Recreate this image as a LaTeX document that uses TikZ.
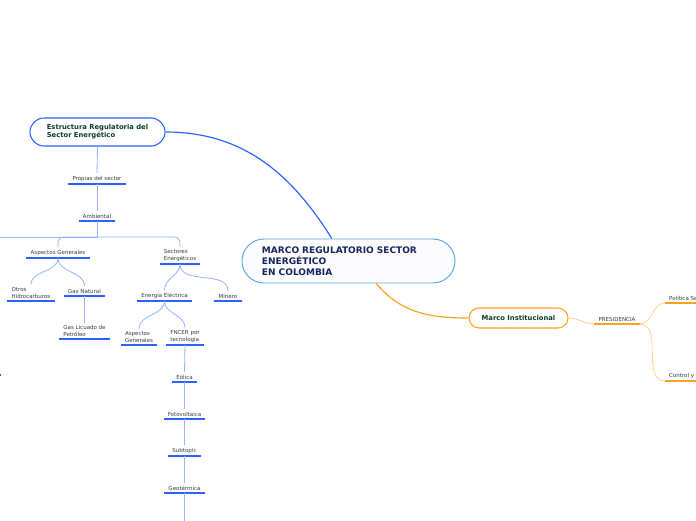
\documentclass[tikz,border=0pt]{standalone}
\usepackage{fontspec}
\setmainfont{DejaVu Sans}
\usetikzlibrary{positioning, calc}

\definecolor{azul}{RGB}{41,98,255}
\definecolor{azulclaro}{RGB}{150,180,255}
\definecolor{azulborde}{RGB}{90,165,225}
\definecolor{naranja}{RGB}{255,160,30}
\definecolor{naranjaclaro}{RGB}{255,212,150}
\definecolor{marino}{RGB}{22,38,92}
\definecolor{verdeosc}{RGB}{12,62,42}
\definecolor{texto}{RGB}{60,60,60}

\begin{document}
\begin{tikzpicture}[x=0.03cm, y=-0.03cm,
  raiz/.style={rectangle,rounded corners=0.66cm,draw=azulborde,line width=0.8pt,fill=blue!1,
               text=marino,font=\fontsize{7.7}{9.4}\selectfont\bfseries,align=left,
               text width=5.19cm,inner xsep=0.6cm,minimum height=1.32cm},
  rama/.style={rectangle,draw=#1,line width=0.9pt,fill=white,text=verdeosc,
               font=\fontsize{5.8}{6.9}\selectfont\bfseries,align=left},
  tema/.style={font=\fontsize{4.7}{5.6}\selectfont,text=texto,align=left,
               inner xsep=3.4pt,inner ysep=2.2pt,anchor=south,
               append after command={(\tikzlastnode.south west) edge[draw=#1,line width=1.4pt] (\tikzlastnode.south east)}},
  tema/.default=azul,
  conector/.style={draw=azulclaro,line width=0.7pt},
  conectorn/.style={draw=naranjaclaro,line width=0.7pt}]

  \useasboundingbox (0,0) rectangle (696,520);
  \fill[white] (0,0) rectangle (696,520);
  \clip (0,0) rectangle (696,520);

  % --- centro ---
  \node[raiz] (marco) at (348.5,261) {MARCO REGULATORIO SECTOR\\ ENERGÉTICO\\ EN COLOMBIA};

  % --- ramas principales ---
  \node[rama=azul,rounded corners=0.42cm,minimum width=4.05cm,minimum height=0.84cm] (estr) at (97.5,132)
        {Estructura Regulatoria del\\ Sector Energético};
  \node[rama=naranja,rounded corners=0.3cm,minimum width=2.97cm,minimum height=0.6cm] (inst) at (518.5,318)
        {Marco Institucional};
  \draw[azul,line width=1pt] ([xshift=-0.5cm]marco.north) to[out=122,in=0] (estr.east);
  \draw[naranja,line width=1pt] ([xshift=0.83cm]marco.south) to[out=-50,in=180] (inst.west);

  % --- estructura regulatoria ---
  \node[tema] (props) at (97,184) {Propias del sector};
  \node[tema] (amb) at (97,221) {Ambiental};
  \draw[conector] (estr.south) -- (props.north);
  \draw[conector] (props.south) -- (amb.north);

  \node[tema] (asp) at (58,258) {Aspectos Generales};
  \node[tema] (sect) at (180,264) {Sectores\\ Energéticos};
  \coordinate (nudo) at (97,237);
  \coordinate (fuera) at (-10,237);
  \draw[conector] (amb.south) -- (nudo) -- (fuera);
  \foreach \n in {asp,sect} \draw[conector,rounded corners=5pt] (nudo) -| (\n.north);

  % --- aspectos generales ---
  \node[tema] (otros) at (31,301) {Otros\\ Hidrocarburos};
  \node[tema] (gas) at (84.5,296) {Gas Natural};
  \node[tema] (glp) at (84.5,339) {Gas Licuado de\\ Petróleo};
  \foreach \n in {otros,gas} \draw[conector] (asp.south) to[out=-90,in=90] (\n.north);
  \draw[conector] (gas.south) -- (glp.north);

  % --- sectores ---
  \node[tema] (ener) at (164.5,301) {Energía Eléctrica};
  \node[tema] (min) at (228,301) {Minero};
  \foreach \n in {ener,min} \draw[conector] (sect.south) to[out=-90,in=90] (\n.north);

  \node[tema] (aspg) at (139,345) {Aspectos\\ Generales};
  \node[tema] (fncer) at (185,345) {FNCER por\\ tecnología};
  \foreach \n in {aspg,fncer} \draw[conector] (ener.south) to[out=-90,in=90] (\n.north);

  % --- fuentes no convencionales ---
  \node[tema] (eol) at (184.5,382) {Eólica};
  \node[tema] (foto) at (184.5,419) {Fotovoltaica};
  \node[tema] (subt) at (184.5,456) {Subtopic};
  \node[tema] (geo) at (184.5,493) {Geotérmica};
  \coordinate (bajo) at (184.5,530);
  \draw[conector] (fncer.south) -- (eol.north);
  \draw[conector] (eol.south) -- (foto.north);
  \draw[conector] (foto.south) -- (subt.north);
  \draw[conector] (subt.south) -- (geo.north);
  \draw[conector] (geo.south) -- (bajo);

  \draw[azul,line width=1.4pt] (-10,375) -- (1,375);

  % --- marco institucional ---
  \node[tema=naranja] (pres) at (617,324) {PRESIDENCIA};
  \node[tema=naranja,anchor=south west,text width=1.6cm] (pol) at (665,303) {Política Se};
  \node[tema=naranja,anchor=south west,text width=1.6cm] (ctrl) at (665,381) {Control y};
  \draw[conectorn] (inst.east) to[out=0,in=180] (pres.south west);
  \foreach \n in {pol,ctrl} \draw[conectorn] (pres.south east) to[out=0,in=180] (\n.south west);
\end{tikzpicture}
\end{document}
